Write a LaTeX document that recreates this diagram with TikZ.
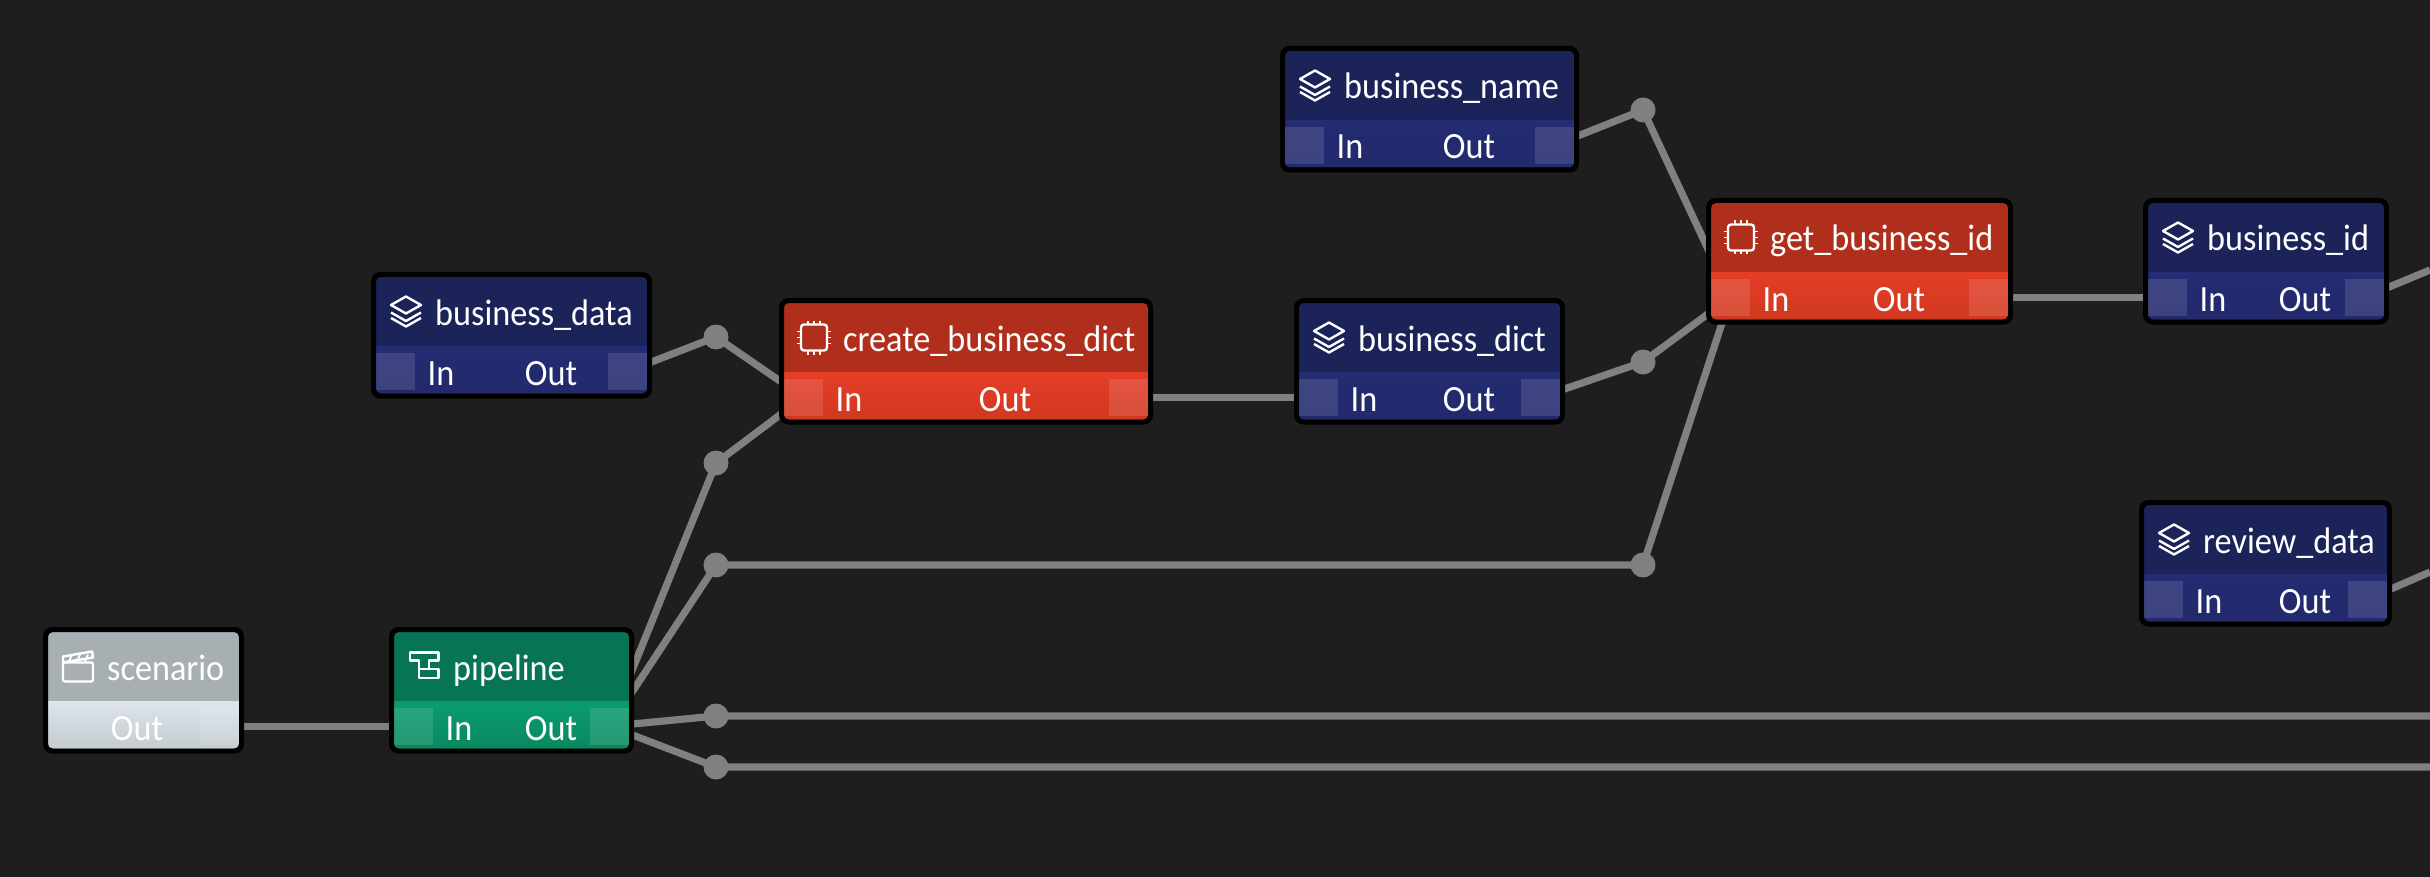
\documentclass[tikz,border=0pt]{standalone}
\usepackage{fontspec}
\setmainfont[FakeStretch=0.925]{Carlito}
\usetikzlibrary{calc}

\definecolor{canvasdark}{HTML}{1E1E1E}
\definecolor{wiregray}{HTML}{808080}
\definecolor{navyA}{HTML}{1C2359}
\definecolor{navyB}{HTML}{242C72}
\definecolor{navyC}{HTML}{222A6C}
\definecolor{redA}{HTML}{AF2F1C}
\definecolor{redB}{HTML}{E43E27}
\definecolor{redC}{HTML}{D03820}
\definecolor{greenA}{HTML}{077456}
\definecolor{greenB}{HTML}{0A9C70}
\definecolor{greenC}{HTML}{0A8860}
\definecolor{grayA}{HTML}{A8AFB2}
\definecolor{grayB}{HTML}{DDE4EB}
\definecolor{grayC}{HTML}{C3CCD0}

\pgfdeclarelayer{canvas}
\pgfdeclarelayer{wires}
\pgfsetlayers{canvas,wires,main}

\tikzset{
  wire/.style={draw=wiregray, line width=7.2pt},
  joint/.style={circle, fill=wiregray, minimum size=25pt, inner sep=0pt},
  frame/.style={draw=black, line width=5pt, rounded corners=7pt, inner sep=0pt, outer sep=0pt},
  label/.style={text=white, inner sep=0pt, font=\fontsize{37}{40}\selectfont},
  icon/.style={draw=white, line width=2.4pt, line join=round},
  portpad/.style={fill=white, fill opacity=0.12, minimum width=38.5, minimum height=37, inner sep=0pt},
  navyhead/.style={fill=navyA},
  navybody/.style={top color=navyB, bottom color=navyC},
  navystrip/.style={fill=navyB},
  redhead/.style={fill=redA},
  redbody/.style={top color=redB, bottom color=redC},
  redstrip/.style={fill=redB},
  greenhead/.style={fill=greenA},
  greenbody/.style={top color=greenB, bottom color=greenC},
  greenstrip/.style={fill=greenB},
  grayhead/.style={fill=grayA},
  graybody/.style={top color=grayB, bottom color=grayC},
  graystrip/.style={fill=grayB},
  pics/stack/.style={code={
    \draw[icon] (-15,-6.5) -- (0,-15) -- (15,-6.5) -- (0,2) -- cycle;
    \draw[icon] (-15,1) -- (0,9.5) -- (15,1);
    \draw[icon] (-15,6.5) -- (0,15) -- (15,6.5);
  }},
  pics/chip/.style={code={
    \draw[icon, rounded corners=3pt] (-13,-13) rectangle (13,13);
    \foreach \t in {-6,0,6} {
      \draw[icon, line width=1.8pt] (\t,-13) -- (\t,-17);
      \draw[icon, line width=1.8pt] (\t,13) -- (\t,17);
      \draw[icon, line width=1.8pt] (-13,\t) -- (-17,\t);
      \draw[icon, line width=1.8pt] (13,\t) -- (17,\t);
    }
  }},
  pics/clapper/.style={code={
    \draw[icon, rounded corners=2pt] (-15,-4) rectangle (15,15);
    \draw[icon] (-15,-4) -- (-15,-10) -- (14,-15) -- (15,-9) -- (-15,-4);
    \foreach \t in {-9,-1,7} {
      \draw[icon, line width=1.8pt] (\t,-5) -- (\t+3,-12);
    }
  }},
  pics/flow/.style={code={
    \draw[icon] (-14.3,-14) -- (14.3,-14) -- (14.3,-6) -- (5,-6) -- (5,2.7) -- (14.3,2.7) -- (14.3,11.7) -- (-5,11.7) -- (-5,-6) -- (-14.3,-6) -- cycle;
    \draw[icon] (-5,2.7) -- (5,2.7);
  }}
}

% #1 name, #2 title, #3 look, #4 icon, #5 left, #6 right, #7 top
\newcommand{\opbox}[7]{
  \fill[#3head, rounded corners=5pt] (#5,#7) rectangle (#6,#7+116.5);
  \shade[#3body, rounded corners=5pt] (#5,#7+69) -- (#6,#7+69) -- (#6,#7+116.5) -- (#5,#7+116.5) -- cycle;
  \fill[#3strip] (#5,#7+69) rectangle (#6,#7+75);
  \node[frame, minimum width=#6-#5+5, minimum height=121.5] (#1) at ({(#5+#6)/2},#7+58.25) {};
  \node[portpad, anchor=north east] (#1out) at (#6,#7+75.5) {};
  \node[label, anchor=base west] (#1title) at (#5+59,#7+48) {#2};
  \pic at (#5+30,#7+34.5) {#4};
}
% #1 name, #2 left, #3 top
\newcommand{\inport}[3]{
  \node[portpad, anchor=north west] (#1in) at (#2,#3+75.5) {};
  \node[label, anchor=base] (#1intext) at (#2+65,#3+108) {In};
}
% #1 name, #2 x, #3 top
\newcommand{\outtext}[3]{
  \node[label, anchor=base] (#1outtext) at (#2,#3+108) {Out};
}

\begin{document}
\begin{tikzpicture}[x=1pt, y=-1pt]
  \useasboundingbox (0,0) rectangle (2430,877);
  \begin{pgfonlayer}{canvas}
    \fill[canvasdark] (0,0) rectangle (2430,877);
  \end{pgfonlayer}

  \opbox{scenario}{scenario}{gray}{clapper}{48}{239}{632}
  \outtext{scenario}{137}{632}
  \opbox{pipeline}{pipeline}{green}{flow}{394}{629}{632}
  \inport{pipeline}{394}{632}
  \outtext{pipeline}{551}{632}
  \opbox{bdata}{business\_data}{navy}{stack}{376}{647}{277}
  \inport{bdata}{376}{277}
  \outtext{bdata}{551}{277}
  \opbox{createdict}{create\_business\_dict}{red}{chip}{784}{1148}{303}
  \inport{createdict}{784}{303}
  \outtext{createdict}{1005}{303}
  \opbox{bdict}{business\_dict}{navy}{stack}{1299}{1560}{303}
  \inport{bdict}{1299}{303}
  \outtext{bdict}{1469}{303}
  \opbox{bname}{business\_name}{navy}{stack}{1285}{1574}{51}
  \inport{bname}{1285}{51}
  \outtext{bname}{1469}{51}
  \opbox{getid}{get\_business\_id}{red}{chip}{1711}{2008}{203}
  \inport{getid}{1711}{203}
  \outtext{getid}{1899}{203}
  \opbox{bid}{business\_id}{navy}{stack}{2148}{2384}{203}
  \inport{bid}{2148}{203}
  \outtext{bid}{2305}{203}
  \opbox{rdata}{review\_data}{navy}{stack}{2144}{2387}{505}
  \inport{rdata}{2144}{505}
  \outtext{rdata}{2305}{505}

  \node[joint] (j1) at (716,337) {};
  \node[joint] (j2) at (716,463) {};
  \node[joint] (j3) at (716,565) {};
  \node[joint] (j4) at (716,716) {};
  \node[joint] (j5) at (716,767) {};
  \node[joint] (j6) at (1643,110) {};
  \node[joint] (j7) at (1643,362) {};
  \node[joint] (j8) at (1643,565) {};

  \coordinate (exit1) at (2430,270);
  \coordinate (exit2) at (2430,572);
  \coordinate (exit3) at (2430,716);
  \coordinate (exit4) at (2430,767);

  \begin{pgfonlayer}{wires}
    \draw[wire] (scenarioout.center) -- (pipeline.center |- scenarioout.center);
    \draw[wire] (pipelineout.center) -- (j2.center) -- (createdictin.center);
    \draw[wire] (pipelineout.center) -- (j3.center) -- (j8.center) -- (getidin.center);
    \draw[wire] (pipelineout.center) -- (j4.center) -- (exit3);
    \draw[wire] (pipelineout.center) -- (j5.center) -- (exit4);
    \draw[wire] (bdataout.center) -- (j1.center) -- (createdictin.center);
    \draw[wire] (createdictout.center) -- (bdictin.center);
    \draw[wire] (bdictout.center) -- (j7.center) -- (getidin.center);
    \draw[wire] (bnameout.center) -- (j6.center) -- (getidin.center);
    \draw[wire] (getidout.center) -- (bidin.center);
    \draw[wire] (bidout.center) -- (exit1);
    \draw[wire] (rdataout.center) -- (exit2);
  \end{pgfonlayer}
\end{tikzpicture}
\end{document}
